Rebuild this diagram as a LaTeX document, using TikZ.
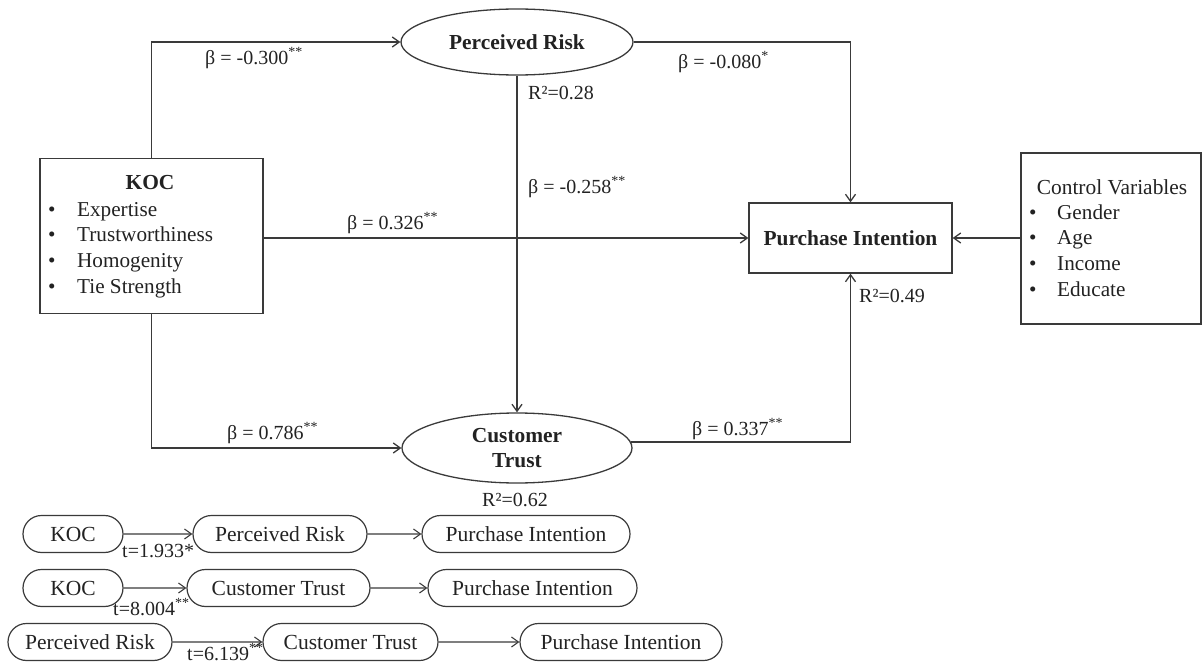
\documentclass[tikz,border=0pt]{standalone}
\usepackage{fontspec}
\setmainfont{Liberation Serif}
\usetikzlibrary{shapes.geometric,shapes.misc,arrows.meta}
\definecolor{linegray}{HTML}{3A3A3A}
\definecolor{textgray}{HTML}{222222}

\begin{document}
\begin{tikzpicture}[x=1pt, y=-1pt,
    every node/.style = {text=textgray},
    box/.style = {draw=linegray, line width=1.3pt, rectangle, inner sep=0pt},
    oval/.style = {draw=linegray, line width=1.3pt, ellipse, inner sep=0pt, align=center, font=\fontsize{21.4}{25}\selectfont\bfseries},
    pill/.style = {draw=linegray, line width=1.2pt, rounded rectangle, minimum height=37pt, inner sep=0pt, font=\fontsize{21.5}{25}\selectfont},
    lbl/.style = {anchor=west, inner sep=0pt, font=\fontsize{20}{24}\selectfont},
    items/.style = {anchor=north west, inner sep=0pt, font=\fontsize{21.2}{25.7}\selectfont},
    arr/.style = {draw=linegray, line width=1.3pt, -{Straight Barb[length=7pt, width=10pt]}}]

    \useasboundingbox (0,0) rectangle (1203,666);

    % model
    \node[box, minimum width=223pt, minimum height=155pt] (koc) at (151.5,236) {};
    \node[font=\fontsize{21.4}{25}\selectfont\bfseries] (koctitle) at (150,183) {KOC};
    \node[items] (kocitems) at (48,198) {\begin{tabular}{@{}p{29pt}@{}l@{}}•&Expertise\\•&Trustworthiness\\•&Homogenity\\•&Tie Strength\end{tabular}};

    \node[oval, minimum width=232pt, minimum height=66pt] (pr) at (517,42) {Perceived Risk};
    \node[oval, minimum width=230pt, minimum height=70pt] (ct) at (517,448) {Customer\\Trust};
    \node[box, minimum width=203pt, minimum height=70pt, font=\fontsize{21.4}{25}\selectfont\bfseries] (pi) at (850.5,238) {Purchase Intention};

    \node[box, minimum width=180pt, minimum height=171pt] (ctrl) at (1111,238.5) {};
    \node[font=\fontsize{21.4}{25}\selectfont] (ctrltitle) at (1112,187) {Control Variables};
    \node[items] (ctrlitems) at (1029,201) {\begin{tabular}{@{}p{28pt}@{}l@{}}•&Gender\\•&Age\\•&Income\\•&Educate\end{tabular}};

    \draw[arr] (koc.north) |- (pr.west);
    \draw[arr] (koc.south) |- (ct.west);
    \draw[arr] (pr.east) -| (pi.north);
    \draw[arr] (pr.south) -- (ct.north);
    \draw[arr] (koc.east |- pi.west) -- (pi.west);
    \draw[arr] (ct.3) -| (pi.south);
    \draw[arr] (ctrl.west |- pi.east) -- (pi.east);

    \node[lbl] (b1) at (205,58) {β = -0.300\textsuperscript{**}};
    \node[lbl] (b2) at (678,62) {β = -0.080\textsuperscript{*}};
    \node[lbl] (r1) at (528,93) {R²=0.28};
    \node[lbl] (b3) at (528,187) {β = -0.258\textsuperscript{**}};
    \node[lbl] (b4) at (347,223) {β = 0.326\textsuperscript{**}};
    \node[lbl] (b5) at (227,433) {β = 0.786\textsuperscript{**}};
    \node[lbl] (b6) at (692,429) {β = 0.337\textsuperscript{**}};
    \node[lbl] (r2) at (482,500) {R²=0.62};
    \node[lbl] (r3) at (859,296) {R²=0.49};

    % mediation paths
    \node[pill, minimum width=100pt] (koc1) at (73,534) {KOC};
    \node[pill, minimum width=174pt] (pr1) at (280,534) {Perceived Risk};
    \node[pill, minimum width=208pt] (pi1) at (526,534) {Purchase Intention};
    \node[pill, minimum width=100pt] (koc2) at (73,588) {KOC};
    \node[pill, minimum width=183pt] (ct2) at (278.5,588) {Customer Trust};
    \node[pill, minimum width=209pt] (pi2) at (532.5,588) {Purchase Intention};
    \node[pill, minimum width=164pt] (pr3) at (90,642) {Perceived Risk};
    \node[pill, minimum width=175pt] (ct3) at (350.5,642) {Customer Trust};
    \node[pill, minimum width=202pt] (pi3) at (621,642) {Purchase Intention};

    \draw[arr, line width=1.1pt] (koc1) -- (pr1);
    \draw[arr, line width=1.1pt] (pr1) -- (pi1);
    \draw[arr, line width=1.1pt] (koc2) -- (ct2);
    \draw[arr, line width=1.1pt] (ct2) -- (pi2);
    \draw[arr, line width=1.1pt] (pr3) -- (ct3);
    \draw[arr, line width=1.1pt] (ct3) -- (pi3);

    \node[lbl] (t1) at (122,551) {t=1.933*};
    \node[lbl] (t2) at (113,607) {t=8.004\textsuperscript{**}};
    \node[lbl] (t3) at (187,652) {t=6.139\textsuperscript{**}};

\end{tikzpicture}
\end{document}
